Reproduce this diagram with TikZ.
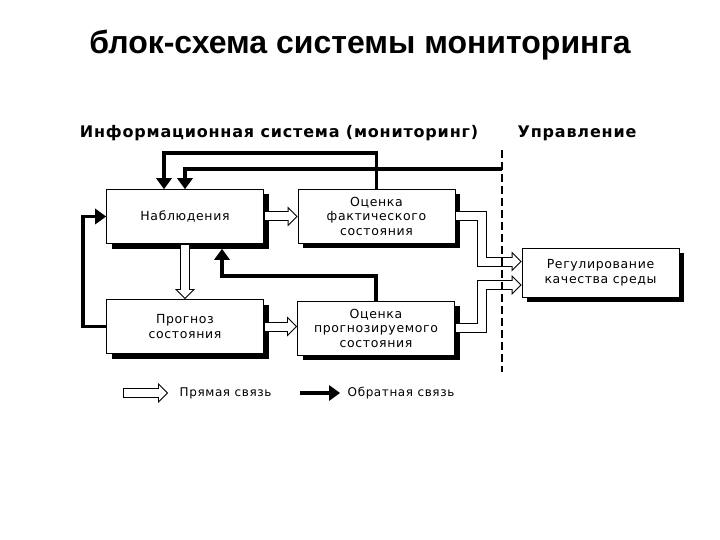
\documentclass[tikz,border=0pt]{standalone}
\usepackage{fontspec}
\setmainfont{DejaVu Sans}
\newfontfamily\titlefont{Liberation Sans}
\newfontfamily\schemefont[LetterSpace=5]{DejaVu Sans}
\usetikzlibrary{arrows.meta,shadows,positioning}

\begin{document}
\begin{tikzpicture}[x=1pt, y=-1pt, thick]
		% --- Стили ---
		\tikzset{
			block/.style={draw, fill=white, line width=0.8pt, align=center,
				minimum width=157pt, minimum height=54pt, inner sep=2pt,
				font=\schemefont\fontsize{12.5}{14.5}\selectfont,
				drop shadow={shadow xshift=5pt, shadow yshift=-5pt, opacity=1, fill=black}},
			fb/.style={line width=3.5pt, -{Triangle[length=11pt, width=16pt, line width=0pt]}}, % обратная связь
			hollow/.style={line width=10pt, -{Triangle[length=10pt, width=20pt, line width=0pt]},
				postaction={draw, white, line width=8pt, shorten <=1pt, shorten >=1.4pt,
					-{Triangle[length=7.6pt, width=15.2pt, line width=0pt]}}}, % прямая связь
			heading/.style={font=\schemefont\bfseries\fontsize{16}{18}\selectfont},
			legendtext/.style={font=\schemefont\fontsize{12}{14}\selectfont, anchor=west}
		}
		\useasboundingbox (0,0) rectangle (720,540);
		
		% --- Заголовок ---
		\node[font=\titlefont\bfseries\fontsize{32}{36}\selectfont] (title) at (360,45) {блок-схема системы мониторинга};
		\node[heading] (info) at (279,133) {Информационная система (мониторинг)};
		\node[heading, anchor=west] (ctrl) at (514,133) {Управление};
		
		% --- Блоки ---
		\node[block] (nab) at (185,216.5) {Наблюдения};
		\node[block] (ofs) at (376.5,216) {Оценка\\фактического\\состояния};
		\node[block] (prog) at (185,326.5) {Прогноз\\состояния};
		\node[block] (opr) at (376,328) {Оценка\\прогнозируемого\\состояния};
		\node[block, minimum height=49pt] (reg) at (600.5,272.5) {Регулирование\\качества среды};
		
		\coordinate (ctl) at (502,169);        % вход от управления
		\coordinate (nabsh) at ([yshift=-5pt]nab.south); % низ тени блока
		
		% --- Обратные связи ---
		\draw[fb] (ofs.north) |- (164,153) -- (nab.north -| 164,153);
		\draw[fb] (ctl) -| (nab.north);
		\draw[fb] (prog.west) -- ++(-23,0) |- (nab.west);
		\draw[fb] (opr.north) |- (222,276) -- (nabsh -| 222,276);
		
		% --- Прямые связи ---
		\draw[hollow] (nab.east) -- (nab.east -| ofs.west);
		\draw[hollow] (nab.south) -- (nab.south |- prog.north);
		\draw[hollow] (prog.east) -- (prog.east -| opr.west);
		\draw[hollow] (ofs.east) -- ++(27,0) |- ([yshift=11pt]reg.west);
		\draw[hollow] (opr.east) -- ++(27,0) |- ([yshift=-12.5pt]reg.west);
		
		% --- Граница ---
		\draw[line width=2pt, dash pattern=on 8pt off 4pt] (502,150) -- (502,372);
		
		% --- Легенда ---
		\coordinate (l1) at (123,393);
		\coordinate (l2) at (168,393);
		\coordinate (l3) at (300,393);
		\coordinate (l4) at (340,393);
		\draw[hollow] (l1) -- (l2);
		\node[legendtext] (ltxt1) at (176,393) {Прямая связь};
		\draw[fb] (l3) -- (l4);
		\node[legendtext] (ltxt2) at (344,393) {Обратная связь};
		
	\end{tikzpicture}
\end{document}
